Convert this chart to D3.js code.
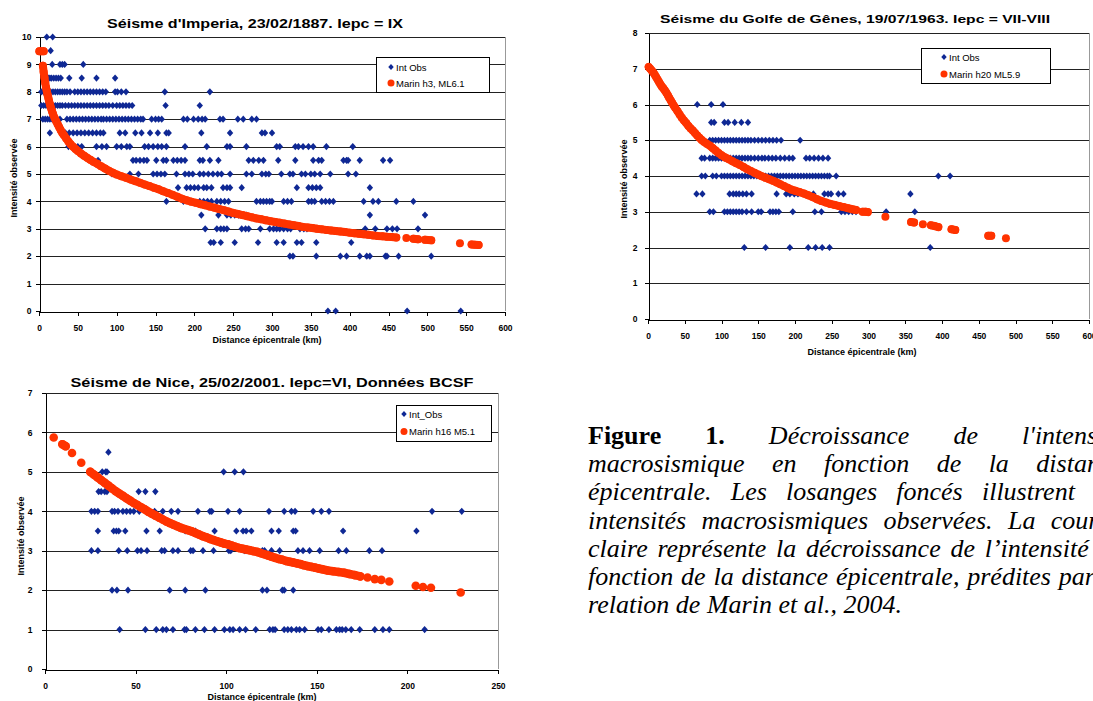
<!DOCTYPE html>
<html>
<head>
<meta charset="utf-8">
<script src="https://cdn.jsdelivr.net/npm/d3@7"></script>
<style>
  body { margin: 0; width: 1093px; height: 701px; overflow: hidden; background: #fff; position: relative; }
  svg { position: absolute; left: 0; top: 0; }
  #caption { position: absolute; left: 588px; top: 422px; font-family: "Liberation Serif", "Times New Roman", serif;
             font-size: 26px; line-height: 28.2px; font-style: italic; white-space: nowrap; }
  #caption div { width: 535px; text-align: justify; text-align-last: justify; }
  #caption div.last { text-align-last: left; }
  #caption b { font-style: normal; }
</style>
</head>
<body>
<div id="chart"></div>
<div id="caption">
  <div><b>Figure 1.</b> Décroissance de l'intensité</div>
  <div>macrosismique en fonction de la distance</div>
  <div>épicentrale. Les losanges foncés illustrent les</div>
  <div>intensités macrosismiques observées. La courbe</div>
  <div>claire représente la décroissance de l’intensité en</div>
  <div>fonction de la distance épicentrale, prédites par la</div>
  <div class="last">relation de Marin et al., 2004.</div>
</div>
<script>
// ticks
var ticks600 = [0, 50, 100, 150, 200, 250, 300, 350, 400, 450, 500, 550, 600];
var ticks250 = [0, 50, 100, 150, 200, 250];
var ticksY10 = [0, 1, 2, 3, 4, 5, 6, 7, 8, 9, 10];
var ticksY8 = [0, 1, 2, 3, 4, 5, 6, 7, 8];
var ticksY7 = [0, 1, 2, 3, 4, 5, 6, 7];

// Imperia 1887 : observed intensity rows [intensity, distances km]
var imperiaObs = [
  [10, [10, 17.6]],
  [9.5, [5.5, 15]],
  [9, [17, 27, 30, 33, 57]],
  [8.5, [12, 14, 16, 19, 22, 25, 28, 39, 55, 74, 98]],
  [8, [3, 6, 9, 12, 15, 18, 21, 24, 27, 30, 33, 36, 40, 46, 50, 54, 58, 62, 66, 70, 74, 78, 82, 86, 98, 101, 106, 112, 162, 220]],
  [7.5, [3, 6, 9, 12, 15, 18, 21, 24, 27, 30, 34, 38, 42, 46, 50, 54, 58, 62, 66, 70, 74, 78, 82, 86, 90, 95, 100, 104, 108, 112, 116, 120, 163, 207]],
  [7, [5, 8, 11, 14, 17, 20, 23, 27, 36, 40, 44, 48, 52, 56, 60, 64, 68, 72, 76, 80, 83, 87, 91, 95, 99, 103, 107, 111, 115, 119, 123, 127, 131, 134, 145, 150, 154, 158, 186, 191, 199, 205, 210, 214, 233, 237, 256, 263, 274, 280]],
  [6.5, [14, 29, 34, 39, 44, 49, 54, 59, 64, 69, 74, 79, 83, 104, 111, 124, 132, 143, 153, 164, 167, 209, 246, 287, 291, 300]],
  [6, [38, 46, 50, 55, 74, 81, 87, 100, 106, 113, 117, 136, 141, 147, 153, 158, 164, 188, 216, 242, 246, 267, 306, 310, 330, 334, 340, 347, 353, 370, 404]],
  [5.5, [76, 121, 125, 130, 135, 139, 151, 160, 164, 173, 178, 183, 188, 207, 211, 220, 231, 270, 276, 283, 289, 308, 330, 353, 360, 364, 392, 396, 398, 413, 443, 452]],
  [5, [94, 117, 128, 147, 152, 157, 162, 177, 188, 193, 198, 207, 212, 218, 224, 230, 235, 246, 267, 274, 287, 292, 296, 312, 323, 327, 338, 343, 350, 355, 362, 375, 398, 408]],
  [4.5, [149, 179, 190, 195, 200, 205, 212, 216, 222, 237, 242, 246, 261, 332, 347, 352, 357, 362, 426]],
  [4, [164, 186, 207, 212, 217, 222, 229, 234, 239, 244, 280, 285, 289, 293, 297, 300, 315, 320, 325, 347, 351, 355, 364, 369, 374, 379, 418, 430, 437, 460, 482]],
  [3.5, [209, 231, 242, 247, 252, 257, 267, 426, 497]],
  [3, [214, 229, 234, 238, 242, 261, 266, 270, 285, 297, 302, 306, 310, 315, 320, 324, 336, 341, 345, 420, 433, 448, 455, 461, 488]],
  [2.5, [221, 225, 234, 252, 282, 306, 315, 332, 338, 357, 402]],
  [2, [323, 327, 357, 388, 396, 413, 422, 426, 446, 448, 463, 505]],
  [0, [372, 382, 474, 543]]
];
// Marin h3 ML6.1 [distance, intensity]
var imperiaMarin = [
  [0.5, 9.48], [3, 9.48], [6, 9.48],
  [5, 8.95], [6, 8.72], [7, 8.52], [8, 8.33], [9, 8.17], [10, 8.03], [11, 7.9], [12, 7.78], [13, 7.66], [14, 7.55],
  [15, 7.45], [16, 7.36], [17, 7.27], [18, 7.19], [20, 7.05], [22, 6.93], [24, 6.82], [26, 6.71], [28, 6.6], [30, 6.5],
  [32, 6.42], [35, 6.3], [38, 6.18], [41, 6.08], [44, 5.99], [47, 5.91], [50, 5.84], [54, 5.75], [58, 5.67], [62, 5.59],
  [66, 5.52], [70, 5.45], [75, 5.37], [80, 5.28], [85, 5.2], [90, 5.12], [95, 5.05], [100, 4.98], [106, 4.92], [112, 4.86],
  [118, 4.8], [124, 4.74], [130, 4.68], [136, 4.62], [142, 4.56], [148, 4.5], [154, 4.44], [160, 4.37], [166, 4.31],
  [172, 4.24], [178, 4.17], [184, 4.1], [190, 4.04], [196, 3.99], [202, 3.95], [208, 3.9], [214, 3.86], [220, 3.81],
  [226, 3.77], [232, 3.72], [238, 3.68], [244, 3.63], [250, 3.58], [256, 3.54], [262, 3.5], [268, 3.46], [274, 3.42],
  [280, 3.38], [286, 3.35], [292, 3.31], [298, 3.28], [304, 3.25], [310, 3.22], [316, 3.19], [322, 3.16], [328, 3.13],
  [334, 3.1], [340, 3.07], [346, 3.05], [352, 3.03], [358, 3.0], [364, 2.98], [370, 2.96], [376, 2.94], [382, 2.92],
  [388, 2.9], [394, 2.88], [400, 2.86], [406, 2.84], [412, 2.82], [418, 2.8], [424, 2.78], [430, 2.76], [436, 2.74],
  [442, 2.73], [448, 2.71], [454, 2.7], [460, 2.68],
  [473, 2.66], [482, 2.64], [488, 2.62], [497, 2.6], [505, 2.58], [542, 2.47], [557, 2.43], [561, 2.42], [566, 2.41]
];

// Golfe de Genes 1963
var genesObs = [
  [6, [67, 86, 102]],
  [5.5, [86, 90, 104, 109, 118, 127, 136]],
  [5, [84, 88, 92, 96, 100, 104, 108, 112, 116, 120, 124, 128, 132, 136, 140, 145, 150, 155, 160, 165, 170, 175, 181, 207]],
  [4.5, [73, 77, 84, 88, 92, 96, 100, 104, 108, 112, 116, 120, 124, 128, 132, 136, 140, 145, 150, 155, 159, 164, 169, 174, 180, 186, 192, 197, 215, 220, 226, 232, 238, 245]],
  [4, [73, 78, 88, 93, 100, 104, 108, 112, 116, 120, 124, 128, 132, 136, 140, 144, 148, 152, 156, 160, 164, 168, 172, 176, 180, 184, 188, 192, 196, 200, 204, 208, 212, 216, 220, 224, 228, 232, 236, 240, 244, 247, 256, 395, 411]],
  [3.5, [66, 74, 111, 116, 120, 124, 129, 134, 141, 175, 188, 193, 199, 204, 214, 225, 240, 245, 249, 259, 266, 357]],
  [3, [84, 89, 104, 108, 112, 116, 120, 124, 128, 134, 141, 150, 154, 166, 170, 174, 178, 197, 227, 236, 263, 268, 273, 278, 283, 324, 363]],
  [2, [131, 160, 193, 218, 228, 237, 247, 384]]
];
// Marin h20 ML5.9
var genesMarin = [
  [1, 7.05], [3, 7.0], [5, 6.95], [7, 6.9], [9, 6.84], [11, 6.77], [13, 6.7], [15, 6.63], [17, 6.56], [19, 6.5],
  [21, 6.45], [23, 6.39], [25, 6.33], [27, 6.26], [29, 6.18], [31, 6.11], [33, 6.04], [35, 5.97], [37, 5.91], [40, 5.82],
  [43, 5.72], [46, 5.63], [49, 5.55], [52, 5.48], [55, 5.4], [58, 5.33], [61, 5.27], [64, 5.2], [67, 5.13], [70, 5.07],
  [73, 5.01], [76, 4.96], [80, 4.9], [84, 4.85], [88, 4.78], [92, 4.71], [96, 4.64], [100, 4.58], [105, 4.52], [110, 4.47],
  [115, 4.41], [120, 4.36], [125, 4.31], [130, 4.25], [135, 4.19], [140, 4.14], [145, 4.09], [150, 4.04], [155, 3.99],
  [160, 3.95], [165, 3.91], [170, 3.87], [175, 3.82], [180, 3.77], [185, 3.72], [190, 3.67], [195, 3.62], [200, 3.59],
  [206, 3.55], [212, 3.51], [218, 3.46], [224, 3.41], [230, 3.35], [236, 3.3], [242, 3.26], [248, 3.22], [254, 3.19],
  [260, 3.16], [266, 3.13], [272, 3.1], [278, 3.07], [283, 3.05],
  [292, 3.0], [296, 3.0], [299, 2.99], [323, 2.86], [358, 2.71], [362, 2.7], [374, 2.65], [385, 2.62], [390, 2.6],
  [395, 2.57], [413, 2.51], [418, 2.49], [463, 2.33], [467, 2.33], [487, 2.26]
];

// Nice 2001, BCSF
var niceObs = [
  [5.5, [35]],
  [5, [31.6, 33.5, 34.2, 98.6, 104.7, 109.5]],
  [4.5, [29.6, 31, 33, 34.2, 51.7, 55.4, 60.9]],
  [4, [25.6, 27.4, 29.2, 37, 38.4, 40.3, 43, 45, 47, 49, 52, 56, 60.5, 65, 69.7, 73.4, 84.4, 91, 92, 101, 107.4, 123.6, 132, 136, 138, 148, 152.5, 156.7, 213.6, 230]],
  [3.5, [29.2, 37.9, 39.4, 40.7, 44.3, 56, 63.3, 77.4, 83, 93.6, 105.6, 109.3, 111, 113.9, 125, 129, 137, 138.3, 164.5, 205]],
  [3, [25.6, 29.2, 40.7, 45.4, 51, 53, 56.3, 64.4, 66, 70.6, 73.4, 80.4, 81.7, 87.2, 93, 101.5, 102.5, 110, 111, 120, 121.2, 125, 129.5, 139.6, 142.4, 146, 151.6, 162, 166.3, 179, 186]],
  [2, [37, 39.7, 45.8, 68.8, 77.4, 88.5, 120, 122.5, 131, 132, 137]],
  [1, [41.2, 55.4, 61.4, 65, 67, 70.6, 77, 78, 83, 88, 93.6, 99, 102, 103.8, 107.4, 110.7, 116.3, 124, 125.8, 127, 132, 134, 136, 138.7, 140.5, 143.3, 150.7, 152.5, 156.7, 160.8, 162.6, 164, 166, 169, 173.7, 182, 186.5, 190, 209.5]]
];
// Marin h16 M5.1
var niceMarin = [
  [4.8, 5.87], [9.6, 5.7], [11.4, 5.65], [14.9, 5.48], [20, 5.23],
  [25, 5.0], [27, 4.93], [29, 4.86], [31, 4.79], [33, 4.72], [35, 4.65], [37, 4.58], [39, 4.51], [41, 4.45], [43, 4.39],
  [45, 4.33], [47, 4.27], [49, 4.21], [51, 4.16], [53, 4.1], [55, 4.05], [57, 3.99], [59, 3.94], [61, 3.89], [63, 3.84],
  [65, 3.79], [67, 3.74], [69, 3.7], [71, 3.66], [73, 3.62], [75, 3.58], [77, 3.55], [79, 3.52], [81, 3.49], [83, 3.45],
  [85, 3.41], [87, 3.37], [89, 3.34], [91, 3.3], [93, 3.27], [95, 3.24], [97, 3.21], [99, 3.18], [101, 3.16], [103, 3.13],
  [105, 3.1], [107, 3.07], [109, 3.05], [111, 3.03], [113, 3.01], [115, 2.99], [117, 2.97], [119, 2.94], [121, 2.91],
  [123, 2.88], [125, 2.85], [127, 2.82], [129, 2.79], [131, 2.77], [133, 2.74], [135, 2.72], [137, 2.7], [139, 2.68],
  [141, 2.66], [143, 2.63], [145, 2.61], [147, 2.59], [149, 2.57], [151, 2.55], [153, 2.53], [156, 2.5], [159, 2.48],
  [162, 2.46], [165, 2.44], [168, 2.41], [171, 2.38], [174, 2.35],
  [178, 2.32], [182, 2.28], [185.6, 2.26], [190, 2.22], [204.6, 2.11], [208.6, 2.08], [213, 2.06], [229.4, 1.94]
];

var blue = "#0f2894", red = "#ff3300";
var sans = "'Liberation Sans', Arial, sans-serif";
var diamond = "M0,-3.6L3.2,0L0,3.6L-3.2,0Z";
var fmt = d3.format("d");

var svg = d3.select("#chart").append("svg")
    .attr("width", 1093)
    .attr("height", 701);

function drawChart(c) {
    var g = svg.append("g");
    var x = d3.scaleLinear().domain([0, c.xMax]).range([c.left, c.right]);
    var y = d3.scaleLinear().domain([0, c.yMax]).range([c.bottom, c.top]);

    // grid
    g.selectAll(".grid").data(c.yTicks.filter(function(v) { return v > 0; }))
        .join("line")
        .attr("x1", c.left).attr("x2", c.right)
        .attr("y1", function(d) { return Math.round(y(d)) + 0.5; })
        .attr("y2", function(d) { return Math.round(y(d)) + 0.5; })
        .attr("stroke", "#222").attr("stroke-width", 1);
    g.append("line")
        .attr("x1", c.right + 0.5).attr("x2", c.right + 0.5)
        .attr("y1", c.top).attr("y2", c.bottom)
        .attr("stroke", "#999").attr("stroke-width", 1);

    var ax = g.append("g")
        .attr("transform", "translate(0," + (Math.round(c.bottom) + 0.5) + ")")
        .call(d3.axisBottom(x).tickValues(c.xTicks).tickFormat(fmt).tickSize(4).tickSizeOuter(0).tickPadding(c.xPad));
    var ay = g.append("g")
        .attr("transform", "translate(" + (Math.round(c.left) + 0.5) + ",0)")
        .call(d3.axisLeft(y).tickValues(c.yTicks).tickFormat(fmt).tickSize(4).tickSizeOuter(0).tickPadding(c.yPad));
    [ax, ay].forEach(function(a) {
        a.selectAll("path,line").attr("stroke", "#000").attr("shape-rendering", "crispEdges");
        a.selectAll("text").attr("font-family", sans).attr("font-weight", "bold")
            .attr("font-size", "8.5px").attr("fill", "#000");
    });

    // observed
    var obs = [];
    c.obs.forEach(function(row) {
        row[1].forEach(function(d) { obs.push([d, row[0]]); });
    });
    g.selectAll(".obs").data(obs).join("path")
        .attr("d", diamond)
        .attr("transform", function(d) { return "translate(" + x(d[0]) + "," + y(d[1]) + ")"; })
        .attr("fill", blue);

    // Marin prediction, dense runs joined by a thick stroke
    var runs = [], cur = [];
    c.marin.forEach(function(d, i) {
        if (i > 0) {
            var p = c.marin[i - 1];
            var dist = Math.hypot(x(d[0]) - x(p[0]), y(d[1]) - y(p[1]));
            if (dist > 6.5) { runs.push(cur); cur = []; }
        }
        cur.push(d);
    });
    runs.push(cur);
    var line = d3.line().x(function(d) { return x(d[0]); }).y(function(d) { return y(d[1]); });
    g.selectAll(".run").data(runs.filter(function(r) { return r.length > 1; })).join("path")
        .attr("d", line).attr("fill", "none").attr("stroke", red)
        .attr("stroke-width", c.r * 2).attr("stroke-linecap", "round").attr("stroke-linejoin", "round");
    g.selectAll(".marin").data(c.marin).join("circle")
        .attr("cx", function(d) { return x(d[0]); })
        .attr("cy", function(d) { return y(d[1]); })
        .attr("r", c.r).attr("fill", red);

    // titles
    g.append("text").attr("x", c.titleX).attr("y", c.titleY).attr("text-anchor", "middle")
        .attr("font-family", sans).attr("font-weight", "bold").attr("font-size", c.titleSize + "px")
        .attr("textLength", c.titleW).attr("lengthAdjust", "spacingAndGlyphs")
        .text(c.title);
    g.append("text").attr("x", c.xLabX).attr("y", c.xLabY).attr("text-anchor", "middle")
        .attr("font-family", sans).attr("font-weight", "bold").attr("font-size", "9px")
        .text("Distance épicentrale (km)");
    g.append("text").attr("transform", "translate(" + c.yLabX + "," + c.yLabY + ") rotate(-90)")
        .attr("text-anchor", "middle")
        .attr("font-family", sans).attr("font-weight", "bold").attr("font-size", "9px")
        .text("Intensité observée");

    // legend
    var lg = g.append("g").attr("transform", "translate(" + c.leg[0] + "," + c.leg[1] + ")");
    lg.append("rect").attr("x", 0.5).attr("y", 0.5).attr("width", c.leg[2]).attr("height", c.leg[3])
        .attr("fill", "#fff").attr("stroke", "#000");
    lg.append("path").attr("d", diamond).attr("transform", "translate(" + c.legSym + "," + c.legRow1 + ") scale(0.85)")
        .attr("fill", blue);
    lg.append("circle").attr("cx", c.legSym).attr("cy", c.legRow2).attr("r", 3.5).attr("fill", red);
    lg.selectAll(".lt").data(c.legText).join("text")
        .attr("x", c.legSym + 5)
        .attr("y", function(d, i) { return (i ? c.legRow2 : c.legRow1) + 3.5; })
        .attr("font-family", sans).attr("font-size", "9.5px")
        .text(function(d) { return d; });
}

drawChart({
    xMax: 600, yMax: 10, left: 39, right: 505, top: 37, bottom: 311,
    xTicks: ticks600, yTicks: ticksY10, xPad: 9, yPad: 4,
    obs: imperiaObs, marin: imperiaMarin, r: 4,
    title: "Séisme d'Imperia, 23/02/1887. Iepc = IX", titleX: 255, titleY: 28, titleSize: 13, titleW: 296,
    xLabX: 267, xLabY: 343, yLabX: 17, yLabY: 178,
    leg: [376, 57, 113, 35], legSym: 15, legRow1: 10, legRow2: 26, legText: ["Int Obs", "Marin h3, ML6.1"]
});

drawChart({
    xMax: 600, yMax: 8, left: 648, right: 1089, top: 33, bottom: 319,
    xTicks: ticks600, yTicks: ticksY8, xPad: 9, yPad: 7,
    obs: genesObs, marin: genesMarin, r: 4,
    title: "Séisme du Golfe de Gênes, 19/07/1963. Iepc = VII-VIII", titleX: 855, titleY: 23, titleSize: 11, titleW: 390,
    xLabX: 862, xLabY: 355, yLabX: 627, yLabY: 179,
    leg: [921, 48, 129, 35], legSym: 23, legRow1: 9, legRow2: 26, legText: ["Int Obs", "Marin h20 ML5.9"]
});

drawChart({
    xMax: 250, yMax: 7, left: 45, right: 498, top: 393, bottom: 669,
    xTicks: ticks250, yTicks: ticksY7, xPad: 9, yPad: 9,
    obs: niceObs, marin: niceMarin, r: 4.3,
    title: "Séisme de Nice, 25/02/2001. Iepc=VI, Données BCSF", titleX: 272, titleY: 387, titleSize: 13, titleW: 403,
    xLabX: 262, xLabY: 700, yLabX: 24, yLabY: 536,
    leg: [396, 405, 95, 36], legSym: 8, legRow1: 9, legRow2: 26.5, legText: ["Int_Obs", "Marin h16 M5.1"]
});
</script>
</body>
</html>
